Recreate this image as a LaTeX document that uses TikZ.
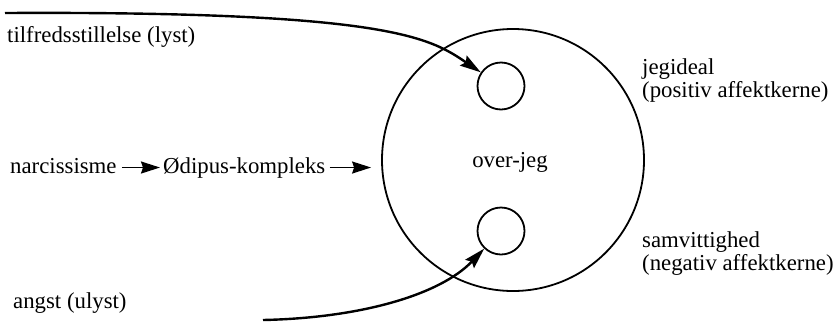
\documentclass[tikz,border=0pt]{standalone}
\usepackage{fontspec}
\setmainfont{Liberation Serif}
\usetikzlibrary{arrows.meta}
\begin{document}
\begin{tikzpicture}[x=1pt,y=-1pt,
  lbl/.style={inner sep=0pt,font=\fontsize{22.8}{23}\selectfont},
  ring/.style={draw,circle,line width=1.8pt,inner sep=0pt},
  curve/.style={line width=2.4pt,-{Stealth[length=21pt,width=12pt,inset=3pt]}},
  small/.style={line width=1.7pt,-{Stealth[length=19pt,width=12pt,inset=2pt]}}]
\useasboundingbox (0,0) rectangle (837,322);
% circles
\node[ring,minimum size=262pt] (big) at (513,160) {};
\node[ring,minimum size=47pt] (ideal) at (501,86) {};
\node[ring,minimum size=47pt] (samv) at (501,231) {};
% labels
\node[lbl,anchor=base west] (tilf) at (7,42) {tilfredsstillelse (lyst)};
\node[lbl,anchor=base west] (narc) at (10,173) {narcissisme};
\node[lbl,anchor=base west] (oed) at (163,173) {Ødipus-kompleks};
\node[lbl,anchor=base west] (angst) at (13,308) {angst (ulyst)};
\node[lbl,anchor=base] (oj) at (510,167) {over-jeg};
\node[lbl,anchor=base west] (jeg1) at (642,74) {jegideal};
\node[lbl,anchor=base west] (jeg2) at (642,97) {(positiv affektkerne)};
\node[lbl,anchor=base west] (sam1) at (642,247) {samvittighed};
\node[lbl,anchor=base west] (sam2) at (642,270) {(negativ affektkerne)};
% connectors
\coordinate (s1) at (5,13);
\coordinate (s2) at (263,320);
\draw[curve] (s1) .. controls (390,11) and (430,38) .. (ideal);
\draw[curve] (s2) .. controls (360,318) and (440,295) .. (samv);
\draw[small,shorten <=5pt,shorten >=3pt] (narc.east|-oed.west) -- (oed.west);
\draw[small,shorten <=4pt,shorten >=10pt] (oed.east) -- (oed.east-|big.west);
\end{tikzpicture}
\end{document}
